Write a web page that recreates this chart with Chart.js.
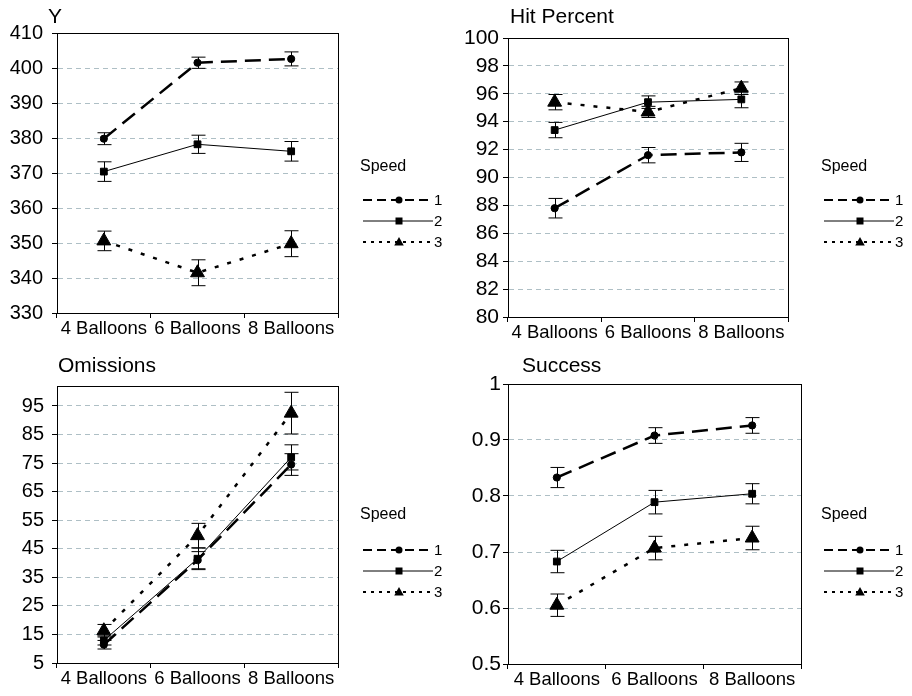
<!DOCTYPE html>
<html>
<head>
<meta charset="utf-8">
<title>Speed by balloons</title>
<script src="https://cdn.jsdelivr.net/npm/chart.js@4.4.1/dist/chart.umd.min.js"></script>
<style>
    html, body { margin: 0; padding: 0; background: #fff; }
    #figure { position: relative; width: 912px; height: 696px; }
    #figure canvas { position: absolute; }
</style>
</head>
<body>
<div id="figure">
    <canvas id="panel-y" width="456" height="348" style="left:0;top:0"></canvas>
    <canvas id="panel-hit" width="456" height="348" style="left:456px;top:0"></canvas>
    <canvas id="panel-omit" width="456" height="348" style="left:0;top:348px"></canvas>
    <canvas id="panel-success" width="456" height="348" style="left:456px;top:348px"></canvas>
</div>
<script>
/* Four small line charts (one per measure), speed 1-3 as series, with
   standard-error bars. */
(function () {
    "use strict";

    var balloons = ["4 Balloons", "6 Balloons", "8 Balloons"];
    var speeds = ["1", "2", "3"];

    // Y (top left)
    var ySpeed1 = [379.8, 401.5, 402.6];
    var ySpeed2 = [370.4, 378.2, 376.2];
    var ySpeed3 = [350.6, 341.5, 349.8];
    var yErr1 = [1.7, 1.6, 2.0];
    var yErr2 = [2.8, 2.6, 2.8];
    var yErr3 = [2.8, 3.7, 3.7];
    var yTicks = [330, 340, 350, 360, 370, 380, 390, 400, 410];

    // Hit Percent (top right)
    var hitSpeed1 = [87.8, 91.6, 91.8];
    var hitSpeed2 = [93.4, 95.4, 95.6];
    var hitSpeed3 = [95.4, 94.7, 96.4];
    var hitErr1 = [0.7, 0.55, 0.65];
    var hitErr2 = [0.55, 0.45, 0.6];
    var hitErr3 = [0.55, 0.4, 0.45];
    var hitTicks = [80, 82, 84, 86, 88, 90, 92, 94, 96, 98, 100];

    // Omissions (bottom left)
    var omitSpeed1 = [11.4, 41.0, 74.5];
    var omitSpeed2 = [12.9, 41.5, 77.0];
    var omitSpeed3 = [16.3, 49.6, 92.5];
    var omitErr1 = [1.5, 3.0, 3.8];
    var omitErr2 = [1.6, 3.8, 4.4];
    var omitErr3 = [2.2, 4.3, 7.3];
    var omitTicks = [5, 15, 25, 35, 45, 55, 65, 75, 85, 95];

    // Success (bottom right)
    var sucSpeed1 = [0.833, 0.908, 0.926];
    var sucSpeed2 = [0.683, 0.789, 0.804];
    var sucSpeed3 = [0.605, 0.707, 0.725];
    var sucErr1 = [0.018, 0.014, 0.014];
    var sucErr2 = [0.02, 0.021, 0.018];
    var sucErr3 = [0.02, 0.021, 0.021];
    var sucTicks = [0.5, 0.6, 0.7, 0.8, 0.9, 1];

    var family = "'Liberation Sans', Arial, sans-serif";
    var gridColor = "#aebfc5";
    var W = 456;
    var H = 348;

    Chart.defaults.font.family = family;
    Chart.defaults.color = "#000";

    // line + marker look of speed 1, 2, 3
    var seriesStyle = [
        { dash: [16, 8], width: 2.5, point: "circle", radius: 3.6,
          legendDash: [9, 5], legendWidth: 2, legendRadius: 3.5 },
        { dash: [], width: 1, point: "rect", radius: 4.8,
          legendDash: [], legendWidth: 1, legendRadius: 3.5 },
        { dash: [4, 9], width: 2.5, point: "triangle", radius: 8,
          legendDash: [3, 5], legendWidth: 2, legendRadius: 5 }
    ];

    function marker(ctx, style, r, x, y) {
        ctx.beginPath();
        if (style === "circle") {
            ctx.arc(x, y, r, 0, Math.PI * 2);
        } else if (style === "rect") {
            ctx.rect(x - r, y - r, 2 * r, 2 * r);
        } else {
            ctx.moveTo(x, y - r);
            ctx.lineTo(x + r * 0.95, y + r * 0.7);
            ctx.lineTo(x - r * 0.95, y + r * 0.7);
            ctx.closePath();
        }
        ctx.fill();
    }

    function panelPlugin(p) {
        return {
            id: "panelExtras",
            afterDatasetsDraw: function (chart) {
                var ctx = chart.ctx;
                var yScale = chart.scales.y;
                ctx.save();
                ctx.strokeStyle = "#000";
                ctx.lineWidth = 1;
                ctx.setLineDash([]);
                p.series.forEach(function (s, i) {
                    var meta = chart.getDatasetMeta(i);
                    s.values.forEach(function (v, j) {
                        var x = Math.round(meta.data[j].x) + 0.5;
                        var top = yScale.getPixelForValue(v + s.err[j]);
                        var bot = yScale.getPixelForValue(v - s.err[j]);
                        ctx.beginPath();
                        ctx.moveTo(x, top);
                        ctx.lineTo(x, bot);
                        ctx.moveTo(x - 7, top);
                        ctx.lineTo(x + 7, top);
                        ctx.moveTo(x - 7, bot);
                        ctx.lineTo(x + 7, bot);
                        ctx.stroke();
                    });
                });
                ctx.restore();
            },
            afterDraw: function (chart) {
                var ctx = chart.ctx;
                var a = chart.chartArea;
                ctx.save();
                // plot frame
                ctx.strokeStyle = "#000";
                ctx.lineWidth = 1;
                var l = Math.round(a.left - 0.5) + 0.5;
                var t = Math.round(a.top - 0.5) + 0.5;
                var r = Math.round(a.right - 0.5) + 0.5;
                var b = Math.round(a.bottom - 0.5) + 0.5;
                ctx.strokeRect(l, t, r - l, b - t);

                // panel title
                ctx.fillStyle = "#000";
                ctx.font = "21px " + family;
                ctx.textAlign = "left";
                ctx.textBaseline = "alphabetic";
                ctx.fillText(p.title, p.titleX, p.titleY);

                // legend
                var lx = p.legendX;
                ctx.font = "16px " + family;
                ctx.fillText("Speed", lx - 3, 171);
                ctx.font = "15px " + family;
                ctx.textBaseline = "middle";
                seriesStyle.forEach(function (st, i) {
                    var ly = 200 + i * 21 + p.legendShift;
                    ctx.lineWidth = st.legendWidth;
                    ctx.setLineDash(st.legendDash);
                    ctx.beginPath();
                    ctx.moveTo(lx, ly);
                    ctx.lineTo(lx + 70, ly);
                    ctx.stroke();
                    ctx.setLineDash([]);
                    marker(ctx, st.point, st.legendRadius, lx + 36, ly);
                    ctx.fillText(speeds[i], lx + 71, ly + 1);
                });
                ctx.restore();
            }
        };
    }

    function makePanel(canvasId, p) {
        var canvas = document.getElementById(canvasId);
        new Chart(canvas, {
            type: "line",
            data: {
                labels: balloons,
                datasets: p.series.map(function (s, i) {
                    var st = seriesStyle[i];
                    return {
                        label: speeds[i],
                        data: s.values,
                        borderColor: "#000",
                        backgroundColor: "#000",
                        borderWidth: st.width,
                        borderDash: st.dash,
                        pointStyle: st.point,
                        pointRadius: st.radius,
                        pointBackgroundColor: "#000",
                        pointBorderColor: "#000",
                        pointBorderWidth: 1,
                        tension: 0,
                        fill: false
                    };
                })
            },
            options: {
                responsive: false,
                animation: false,
                events: [],
                layout: {
                    padding: { left: 0, top: p.area.top, right: W - p.area.right, bottom: 0 }
                },
                plugins: {
                    legend: { display: false },
                    tooltip: { enabled: false },
                    title: { display: false }
                },
                scales: {
                    x: {
                        type: "category",
                        offset: true,
                        grid: {
                            offset: true,
                            drawOnChartArea: false,
                            drawTicks: true,
                            tickLength: 5,
                            tickColor: "#000",
                            color: "#000"
                        },
                        border: { color: "#000", width: 1 },
                        ticks: {
                            font: { size: 18.5 },
                            color: "#000",
                            padding: 0,
                            maxRotation: 0,
                            minRotation: 0,
                            autoSkip: false
                        },
                        afterFit: function (scale) {
                            scale.height = H - p.area.bottom;
                        }
                    },
                    y: {
                        min: p.min,
                        max: p.max,
                        afterBuildTicks: function (scale) {
                            scale.ticks = p.ticks.map(function (v) {
                                return { value: v };
                            });
                        },
                        grid: {
                            color: function (c) {
                                var v = c.tick ? c.tick.value : null;
                                if (v === p.min || v === p.max) {
                                    return "rgba(0,0,0,0)";
                                }
                                return gridColor;
                            },
                            tickColor: "#000",
                            tickLength: 5,
                            lineWidth: 1
                        },
                        border: { color: "#000", dash: [5, 4] },
                        ticks: {
                            font: { size: p.tickFont },
                            color: "#000",
                            padding: p.tickPad,
                            autoSkip: false,
                            callback: function (v) {
                                return String(v);
                            }
                        },
                        afterFit: function (scale) {
                            scale.width = p.area.left;
                        }
                    }
                }
            },
            plugins: [panelPlugin(p)]
        });
    }

    makePanel("panel-y", {
        title: "Y", titleX: 48, titleY: 23,
        series: [
            { values: ySpeed1, err: yErr1 },
            { values: ySpeed2, err: yErr2 },
            { values: ySpeed3, err: yErr3 }
        ],
        ticks: yTicks, min: 330, max: 410,
        area: { left: 57, top: 33, right: 338, bottom: 313 },
        tickFont: 20, tickPad: 9,
        legendX: 363, legendShift: 0
    });

    makePanel("panel-hit", {
        title: "Hit Percent", titleX: 54, titleY: 23,
        series: [
            { values: hitSpeed1, err: hitErr1 },
            { values: hitSpeed2, err: hitErr2 },
            { values: hitSpeed3, err: hitErr3 }
        ],
        ticks: hitTicks, min: 80, max: 100,
        area: { left: 52, top: 38, right: 332, bottom: 317 },
        tickFont: 21, tickPad: 4,
        legendX: 368, legendShift: 0
    });

    makePanel("panel-omit", {
        title: "Omissions", titleX: 58, titleY: 24,
        series: [
            { values: omitSpeed1, err: omitErr1 },
            { values: omitSpeed2, err: omitErr2 },
            { values: omitSpeed3, err: omitErr3 }
        ],
        ticks: omitTicks, min: 5, max: 102,
        area: { left: 57, top: 38, right: 338, bottom: 315 },
        tickFont: 20, tickPad: 8,
        legendX: 363, legendShift: 2
    });

    makePanel("panel-success", {
        title: "Success", titleX: 66, titleY: 24,
        series: [
            { values: sucSpeed1, err: sucErr1 },
            { values: sucSpeed2, err: sucErr2 },
            { values: sucSpeed3, err: sucErr3 }
        ],
        ticks: sucTicks, min: 0.5, max: 1,
        area: { left: 52, top: 36, right: 345, bottom: 316 },
        tickFont: 21, tickPad: 2,
        legendX: 368, legendShift: 2
    });
})();
</script>
</body>
</html>
